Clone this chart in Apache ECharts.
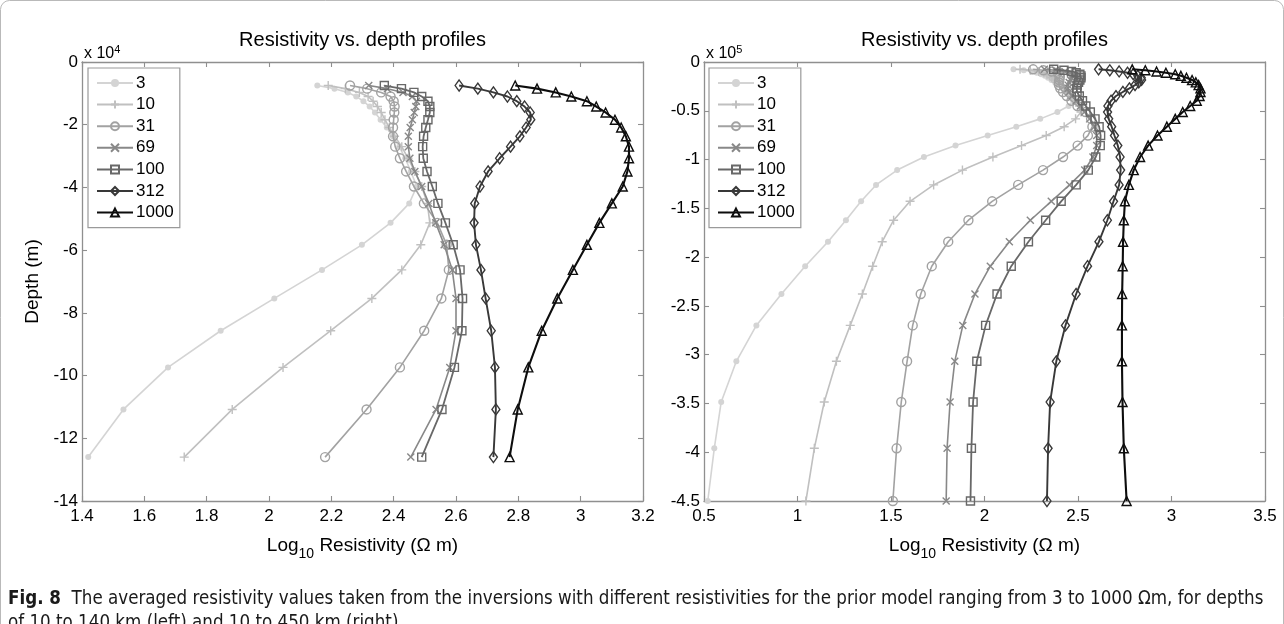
<!DOCTYPE html>
<html>
<head>
<meta charset="utf-8">
<script src="https://cdn.jsdelivr.net/npm/echarts@6/dist/echarts.min.js"></script>
<style>
  html, body { margin: 0; padding: 0; background: #fff; }
  #chart { width: 1284px; height: 624px; }
</style>
</head>
<body>
<div id="chart"></div>
<script>
// Depth of each model layer (km), shared by both panels
const depthKm = [7.5, 8.5, 9.7, 11.0, 12.5, 14.2, 16.1, 18.4, 20.9, 23.7, 27.0, 30.7, 34.9, 39.7,
  45.1, 51.3, 58.3, 66.3, 75.4, 85.7, 97.4, 110.8, 126.0, 142.8, 162.2, 184.2, 209.3, 237.8,
  270.0, 306.8, 348.5, 396.0, 450.0];

// Prior model resistivities (Ohm m) used as legend entries
const priorModels = ['3', '10', '31', '69', '100', '312', '1000'];

// Averaged log10 resistivity per layer for each prior model
const rho3 = [2.155, 2.21, 2.253, 2.28, 2.303, 2.323, 2.34, 2.358, 2.378, 2.397, 2.418, 2.437, 2.455,
  2.474, 2.45, 2.39, 2.298, 2.17, 2.017, 1.845, 1.676, 1.533, 1.42, 1.34, 1.259, 1.163, 1.041, 0.914,
  0.78, 0.673, 0.592, 0.555, 0.52];
const rho10 = [2.19, 2.245, 2.29, 2.318, 2.334, 2.348, 2.36, 2.372, 2.386, 2.403, 2.426, 2.446, 2.468,
  2.49, 2.508, 2.516, 2.487, 2.426, 2.33, 2.198, 2.045, 1.882, 1.728, 1.602, 1.514, 1.453, 1.402, 1.347,
  1.282, 1.208, 1.143, 1.09, 1.045];
const rho31 = [2.26, 2.315, 2.36, 2.39, 2.40, 2.403, 2.402, 2.40, 2.398, 2.398, 2.405, 2.42, 2.44,
  2.465, 2.497, 2.54, 2.57, 2.577, 2.553, 2.498, 2.42, 2.313, 2.18, 2.041, 1.914, 1.806, 1.718, 1.659,
  1.616, 1.586, 1.555, 1.53, 1.51];
const rho69 = [2.32, 2.38, 2.43, 2.46, 2.473, 2.471, 2.466, 2.46, 2.453, 2.447, 2.447, 2.452, 2.468,
  2.49, 2.513, 2.535, 2.562, 2.588, 2.60, 2.60, 2.58, 2.536, 2.455, 2.357, 2.245, 2.133, 2.031, 1.949,
  1.884, 1.841, 1.816, 1.80, 1.795];
const rho100 = [2.37, 2.425, 2.465, 2.49, 2.51, 2.516, 2.516, 2.51, 2.503, 2.496, 2.493, 2.495, 2.507,
  2.524, 2.542, 2.566, 2.591, 2.613, 2.621, 2.619, 2.595, 2.555, 2.49, 2.41, 2.327, 2.235, 2.143, 2.067,
  2.006, 1.959, 1.939, 1.93, 1.925];
const rho312 = [2.61, 2.67, 2.72, 2.765, 2.795, 2.82, 2.838, 2.84, 2.825, 2.805, 2.775, 2.74, 2.703,
  2.677, 2.66, 2.658, 2.664, 2.68, 2.695, 2.713, 2.725, 2.728, 2.72, 2.69, 2.657, 2.612, 2.551, 2.49,
  2.433, 2.384, 2.351, 2.34, 2.334];
const rho1000 = [2.79, 2.86, 2.92, 2.97, 3.02, 3.05, 3.08, 3.11, 3.13, 3.145, 3.155, 3.155, 3.15,
  3.135, 3.10, 3.06, 3.02, 2.975, 2.925, 2.875, 2.832, 2.798, 2.772, 2.751, 2.745, 2.741, 2.739, 2.736,
  2.735, 2.735, 2.738, 2.745, 2.76];

// Axis tick settings
const leftXTicks = { min: 1.4, max: 3.2, interval: 0.2 };
const rightXTicks = { min: 0.5, max: 3.5, interval: 0.5 };
const leftDepthTicks = { min: -140000, max: 0, interval: 20000, scale: 1e4, exp: '4' };
const rightDepthTicks = { min: -450000, max: 0, interval: 50000, scale: 1e5, exp: '5' };
const leftMaxDepthKm = 130;

const profiles = [rho3, rho10, rho31, rho69, rho100, rho312, rho1000];

const FONT = "'Liberation Sans', Arial, Helvetica, sans-serif";
const CAPTION_FONT = "'Liberation Sans Narrow', 'DejaVu Sans Condensed', sans-serif";
const AXIS_GREY = '#8f8f8f';

const plusPath = 'path://M5,0L5,10M0,5L10,5';
const crossPath = 'path://M0,0L10,10M10,0L0,10';

const looks = [
  { color: '#d4d4d4', symbol: 'circle', size: 6, filled: true, width: 1.6 },
  { color: '#c0c0c0', symbol: plusPath, size: 9, width: 1.6 },
  { color: '#a2a2a2', symbol: 'circle', size: 9, width: 1.6 },
  { color: '#888888', symbol: crossPath, size: 7, width: 1.6 },
  { color: '#686868', symbol: 'rect', size: 8, width: 1.8 },
  { color: '#383838', symbol: 'diamond', size: [8, 11], width: 1.9 },
  { color: '#0d0d0d', symbol: 'triangle', size: 9, width: 2.1 }
];

function makeSeries(panel, maxKm) {
  return priorModels.map((name, k) => {
    const look = looks[k];
    const pts = [];
    depthKm.forEach((d, i) => {
      if (d <= maxKm) pts.push([profiles[k][i], -d * 1000]);
    });
    return {
      name: name,
      type: 'line',
      xAxisIndex: panel * 2,
      yAxisIndex: panel * 2,
      data: pts,
      clip: false,
      symbol: look.symbol,
      symbolSize: look.size,
      showAllSymbol: true,
      lineStyle: { color: look.color, width: look.width },
      itemStyle: look.filled
        ? { color: look.color, borderWidth: 0 }
        : { color: 'rgba(255,255,255,0)', borderColor: look.color, borderWidth: 1.4 },
      emphasis: { disabled: true },
      z: 3 + k
    };
  });
}

function xAxes(grid, t) {
  const common = {
    type: 'value', gridIndex: grid, min: t.min, max: t.max, interval: t.interval,
    axisLine: { show: true, onZero: false, lineStyle: { color: AXIS_GREY, width: 1.3 } },
    axisTick: { show: true, inside: true, length: 5, lineStyle: { color: AXIS_GREY, width: 1.1 } },
    splitLine: { show: false }
  };
  return [
    Object.assign({}, common, {
      position: 'bottom',
      axisLabel: { show: true, color: '#000', fontSize: 17, fontFamily: FONT, margin: 7 },
      name: '{m|Log}{s|10}{m| Resistivity (Ω m)}',
      nameLocation: 'middle',
      nameGap: 30,
      nameTextStyle: {
        rich: {
          m: { fontSize: 19, fontFamily: FONT, color: '#000', lineHeight: 30, verticalAlign: 'middle' },
          s: { fontSize: 14, fontFamily: FONT, color: '#000', lineHeight: 30, verticalAlign: 'bottom' }
        }
      }
    }),
    Object.assign({}, common, { position: 'top', axisLabel: { show: false } })
  ];
}

function yAxes(grid, t, showName) {
  const common = {
    type: 'value', gridIndex: grid, min: t.min, max: t.max, interval: t.interval,
    axisLine: { show: true, onZero: false, lineStyle: { color: AXIS_GREY, width: 1.3 } },
    axisTick: { show: true, inside: true, length: 5, lineStyle: { color: AXIS_GREY, width: 1.1 } },
    splitLine: { show: false }
  };
  const main = Object.assign({}, common, {
    position: 'left',
    axisLabel: {
      show: true, color: '#000', fontSize: 17, fontFamily: FONT, margin: 4,
      formatter: v => String(Math.round(v / t.scale * 100) / 100)
    }
  });
  if (showName) {
    Object.assign(main, {
      name: 'Depth (m)', nameLocation: 'middle', nameGap: 40, nameRotate: 90,
      nameTextStyle: { fontSize: 19, fontFamily: FONT, color: '#000' }
    });
  }
  return [main, Object.assign({}, common, { position: 'right', axisLabel: { show: false } })];
}

function legendAt(left) {
  return {
    orient: 'vertical', left: left, top: 68,
    data: priorModels,
    backgroundColor: '#fff', borderColor: '#9a9a9a', borderWidth: 1.2, borderRadius: 0,
    padding: [5, 6, 5, 8], itemGap: 1.6, itemWidth: 36, itemHeight: 10,
    selectedMode: false,
    textStyle: { fontSize: 17, fontFamily: FONT, color: '#000', lineHeight: 20, padding: [0, 0, 0, -2] }
  };
}

const chart = echarts.init(document.getElementById('chart'), null, { renderer: 'canvas' });

const leftGrid = { left: 82, right: 641, top: 62, bottom: 123 };
const rightGrid = { left: 704, right: 19, top: 62, bottom: 123 };

function panelTexts(g, t) {
  const cx = g.left + (1284 - g.left - g.right) / 2;
  return [
    {
      type: 'text', x: cx, y: 30,
      style: { text: 'Resistivity vs. depth profiles', fill: '#000', font: '20px ' + FONT, textAlign: 'center' }
    },
    {
      type: 'text', x: g.left + 2, y: 44,
      style: {
        text: '{a|x 10}{b|' + t.exp + '}',
        rich: {
          a: { fontSize: 16, fontFamily: FONT, fill: '#000', verticalAlign: 'bottom', lineHeight: 18 },
          b: { fontSize: 11, fontFamily: FONT, fill: '#000', verticalAlign: 'top', lineHeight: 18 }
        }
      }
    }
  ];
}

const caption = {
  type: 'text', x: 8, y: 587,
  style: {
    text: '{b|Fig. 8}{n|  The averaged resistivity values taken from the inversions with different resistivities for the prior model ranging from 3 to 1000 Ωm, for depths}\n{n|of 10 to 140 km (left) and 10 to 450 km (right)}',
    rich: {
      b: { fontSize: 18.6, fontWeight: 'bold', fontFamily: CAPTION_FONT, fill: '#1a1a1a', lineHeight: 24 },
      n: { fontSize: 18.6, fontFamily: CAPTION_FONT, fill: '#1a1a1a', lineHeight: 24 }
    }
  }
};

chart.setOption({
  animation: false,
  backgroundColor: '#fff',
  grid: [leftGrid, rightGrid],
  xAxis: [...xAxes(0, leftXTicks), ...xAxes(1, rightXTicks)],
  yAxis: [...yAxes(0, leftDepthTicks, true), ...yAxes(1, rightDepthTicks, false)],
  legend: [legendAt(88), legendAt(709)],
  series: [...makeSeries(0, leftMaxDepthKm), ...makeSeries(1, Infinity)],
  graphic: [
    { type: 'rect', shape: { x: 0.5, y: 0.5, width: 1283, height: 660, r: 9 }, style: { fill: 'none', stroke: '#b9b9b9', lineWidth: 1 }, silent: true, z: -1 },
    ...panelTexts(leftGrid, leftDepthTicks),
    ...panelTexts(rightGrid, rightDepthTicks),
    caption
  ]
});
</script>
</body>
</html>
